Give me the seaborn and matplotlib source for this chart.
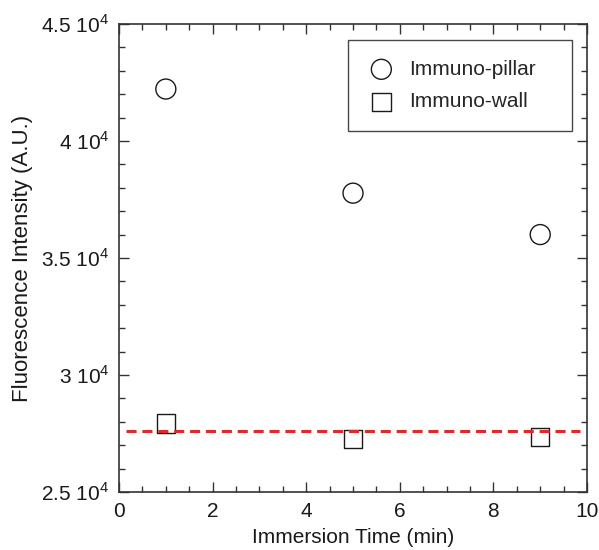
import numpy as np
import pandas as pd
import matplotlib
matplotlib.use("Agg")
import matplotlib.pyplot as plt
import seaborn as sns
from matplotlib.ticker import MultipleLocator, FuncFormatter

# --- data --------------------------------------------------------------------
time_min = [1, 5, 9]
pillar_intensity = [42220, 37770, 36000]
wall_intensity = [27920, 27270, 27340]
baseline_intensity = 27600

sns.set_theme(style="ticks")
plt.rcParams["font.family"] = ["Liberation Sans", "DejaVu Sans"]
plt.rcParams["mathtext.fontset"] = "custom"
plt.rcParams["mathtext.rm"] = "Liberation Sans"

df = pd.DataFrame({
    "time": time_min * 2,
    "intensity": pillar_intensity + wall_intensity,
    "kind": ["Immuno-pillar"] * 3 + ["Immuno-wall"] * 3,
})

fig = plt.figure(figsize=(5.99, 5.5), dpi=100)
ax = fig.add_axes([0.1987, 0.1055, 0.7813, 0.8509])

edge = "#1a1a1a"
sns.scatterplot(data=df[df.kind == "Immuno-pillar"], x="time", y="intensity",
                marker="o", s=207, facecolor="none", edgecolor=edge,
                linewidth=1.0, label="Immuno-pillar", ax=ax, zorder=3)
sns.scatterplot(data=df[df.kind == "Immuno-wall"], x="time", y="intensity",
                marker="s", s=174, facecolor="none", edgecolor=edge,
                linewidth=1.0, label="Immuno-wall", ax=ax, zorder=3)

ax.axhline(baseline_intensity, xmin=0.015, xmax=0.985, color="#e02a2a",
           linestyle=(0, (3.3, 1.9)), linewidth=2.2, zorder=4)

ax.set_xlim(0, 10)
ax.set_ylim(25000, 45000)
ax.xaxis.set_major_locator(MultipleLocator(2))
ax.xaxis.set_minor_locator(MultipleLocator(0.5))
ax.yaxis.set_major_locator(MultipleLocator(5000))
ax.yaxis.set_minor_locator(MultipleLocator(1000))


def sci_fmt(v, pos):
    return f"{v / 1e4:g}" + r" 10$^{4}$"


ax.yaxis.set_major_formatter(FuncFormatter(sci_fmt))
ax.tick_params(which="both", direction="in", top=True, right=True,
               colors="#333333", labelcolor="#1a1a1a", labelsize=15)
ax.tick_params(which="major", length=7, width=1.0, pad=7)
ax.tick_params(which="minor", length=4, width=1.0)
for sp in ax.spines.values():
    sp.set_color("#333333")
    sp.set_linewidth(1.2)

ax.set_xlabel("Immersion Time (min)", fontsize=15, color="#1a1a1a", labelpad=5)
ax.set_ylabel("Fluorescence Intensity (A.U.)", fontsize=16, color="#1a1a1a", labelpad=6)

leg = ax.legend(loc="upper left", bbox_to_anchor=(0.4893, 0.7778, 0.4786, 0.188),
                mode="expand", fontsize=15, frameon=True, fancybox=False,
                edgecolor="#1a1a1a", borderpad=0.95, labelspacing=0.65,
                handletextpad=0.7, borderaxespad=0, handlelength=1.3)
leg.get_frame().set_linewidth(1.0)

fig.savefig("out.png", dpi=100)
